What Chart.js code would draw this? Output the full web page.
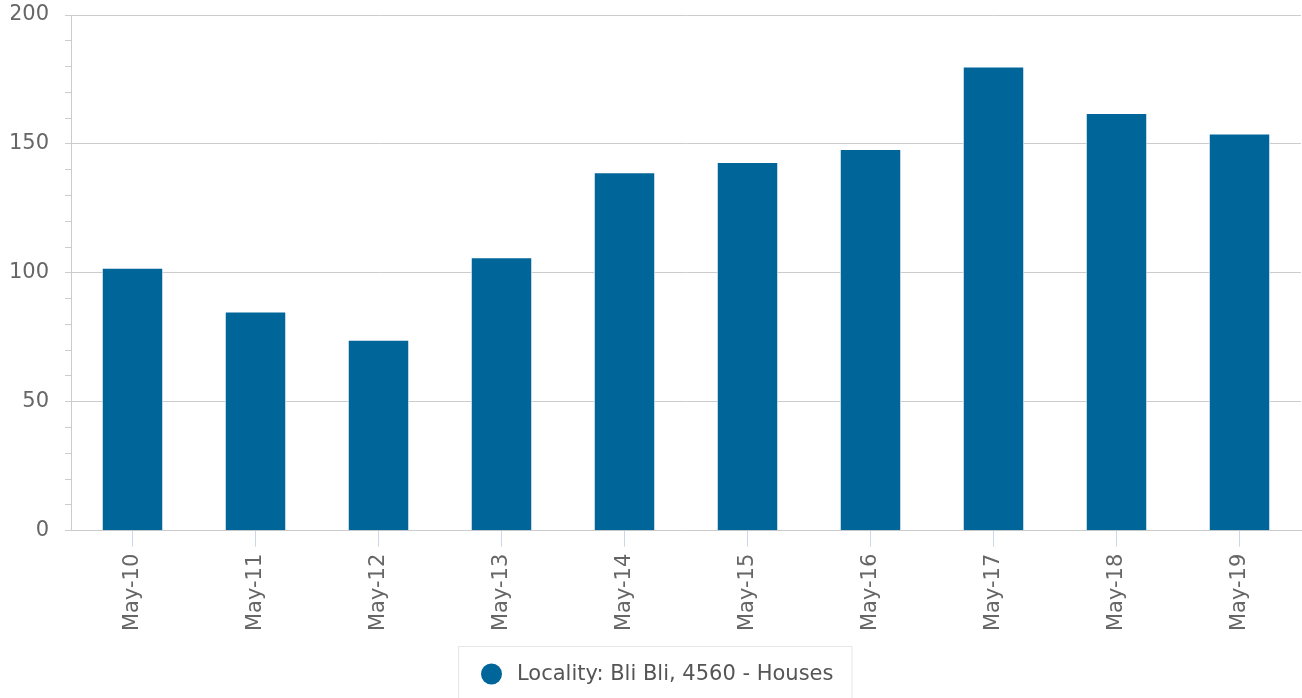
<!DOCTYPE html>
<html>
<head>
<meta charset="utf-8">
<script src="https://cdn.jsdelivr.net/npm/chart.js@4"></script>
<style>
  html, body { margin: 0; padding: 0; background: #fff; }
  #wrap { width: 1302px; height: 698px; }
</style>
</head>
<body>
<div id="wrap"><canvas id="chart"></canvas></div>
<script>
const categories = ['May-10', 'May-11', 'May-12', 'May-13', 'May-14', 'May-15', 'May-16', 'May-17', 'May-18', 'May-19'];
const houseValues = [102, 85, 74, 106, 139, 143, 148, 180, 162, 154];
const seriesName = 'Locality: Bli Bli, 4560 - Houses';
const yMin = 0, yMax = 200, yMajorStep = 50, yMinorStep = 10;

const FONT = '"DejaVu Sans", Verdana, sans-serif';
const FONT_SIZE = 21;
const barColor = '#006699';

// legend with a frame, drawn under the x labels like the original
const boxedLegend = {
  id: 'boxedLegend',
  afterDraw(chart) {
    const ctx = chart.ctx;
    const ds = chart.data.datasets[0];
    ctx.save();
    ctx.font = FONT_SIZE + 'px ' + FONT;
    const textW = ctx.measureText(ds.label).width;
    const r = 10.5, gap = 15;
    const itemW = r * 2 + gap + textW;
    const left = Math.round(chart.width / 2 - itemW / 2 + 6);
    const cy = chart.height - 24;

    ctx.strokeStyle = '#e6e6e6';
    ctx.lineWidth = 1;
    ctx.strokeRect(left - 22.5, cy - 27.5, itemW + 41, 60);

    ctx.fillStyle = ds.backgroundColor;
    ctx.beginPath();
    ctx.arc(left + r, cy, r, 0, Math.PI * 2);
    ctx.fill();

    ctx.fillStyle = '#555555';
    ctx.textBaseline = 'middle';
    ctx.fillText(ds.label, left + r * 2 + gap, cy + 1);
    ctx.restore();
  }
};

new Chart(document.getElementById('chart'), {
  type: 'bar',
  data: {
    labels: categories,
    datasets: [{
      label: seriesName,
      data: houseValues,
      backgroundColor: barColor,
      borderColor: '#ffffff',
      borderWidth: 1,
      categoryPercentage: 1,
      barPercentage: 0.5
    }]
  },
  options: {
    responsive: true,
    maintainAspectRatio: false,
    animation: false,
    layout: { padding: { left: 11, top: 15, right: 1, bottom: 60 } },
    plugins: {
      legend: { display: false },
      tooltip: { enabled: false }
    },
    scales: {
      x: {
        grid: { drawOnChartArea: false, offset: false, tickColor: '#ccd6eb', tickLength: 16 },
        border: { color: '#cccccc' },
        ticks: {
          font: { family: FONT, size: FONT_SIZE },
          color: '#666666',
          minRotation: 90,
          maxRotation: 90,
          padding: 7
        }
      },
      y: {
        min: yMin,
        max: yMax,
        afterFit: scale => {
          scale.width = 60;
          scale.paddingTop = 0;
          scale.paddingBottom = 0;
        },
        grid: {
          color: c => (c.tick && c.tick.value % yMajorStep === 0) ? '#cccccc' : 'rgba(0,0,0,0)',
          tickColor: '#cccccc',
          tickLength: 6
        },
        border: { color: '#cccccc' },
        ticks: {
          stepSize: yMinorStep,
          autoSkip: false,
          font: { family: FONT, size: FONT_SIZE },
          color: '#666666',
          padding: 16,
          callback: v => v % yMajorStep === 0 ? v : ''
        }
      }
    }
  },
  plugins: [boxedLegend]
});
</script>
</body>
</html>
